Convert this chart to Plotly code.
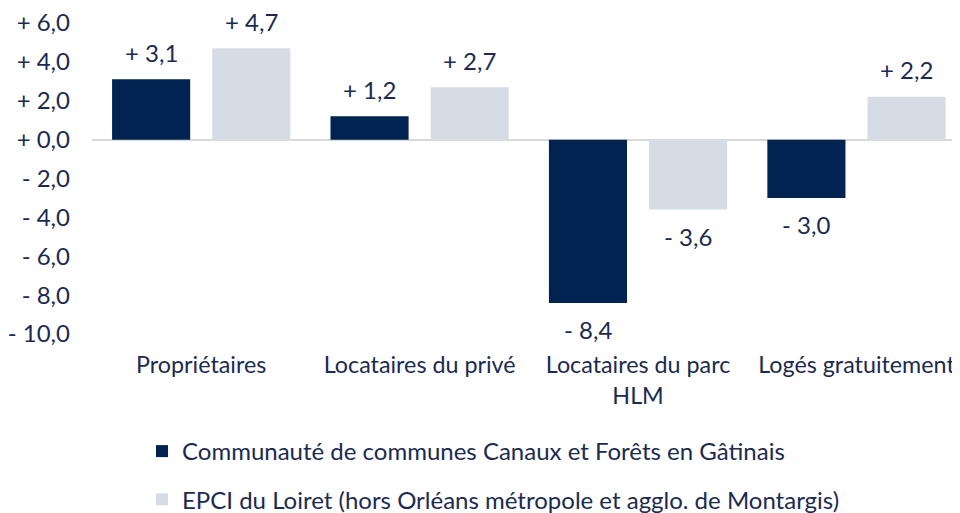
import plotly.graph_objects as go

categories = ["Propriétaires", "Locataires du privé", "Locataires du parc<br>HLM", "Logés gratuitement"]
series_names = ["Communauté de communes Canaux et Forêts en Gâtinais",
                "EPCI du Loiret (hors Orléans métropole et agglo. de Montargis)"]
cc_values = [3.1, 1.2, -8.4, -3.0]
epci_values = [4.7, 2.7, -3.6, 2.2]
tick_values = [6, 4, 2, 0, -2, -4, -6, -8, -10]
tick_labels = ["+ 6,0", "+ 4,0", "+ 2,0", "+ 0,0", "- 2,0", "- 4,0", "- 6,0", "- 8,0", "- 10,0"]

colors = ["#002352", "#D6DCE5"]
text_color = "#1B2B50"
font_family = "Lato, 'Open Sans', sans-serif"
fs = 24

W, H = 952, 505  # page body adds an 8px offset


def fmt(v):
    s = f"{abs(v):.1f}".replace(".", ",")
    return ("+ " if v >= 0 else "- ") + s


fig = go.Figure()
for i, (name, vals) in enumerate(zip(series_names, [cc_values, epci_values])):
    fig.add_trace(go.Bar(
        x=categories, y=vals, name=name,
        marker=dict(color=colors[i], line=dict(width=0)),
        legendgroup=f"g{i}",
    ))
    shift = -50 if i == 0 else 50
    for c, v in zip(categories, vals):
        fig.add_annotation(
            x=c, y=v, xref="x", yref="y", text=fmt(v), showarrow=False,
            xshift=shift, yshift=27 if v >= 0 else -27,
            font=dict(size=fs, color=text_color, family=font_family),
        )

fig.update_layout(
    width=W, height=H,
    margin=dict(l=84, r=0, t=15, b=179, autoexpand=False),
    paper_bgcolor="white", plot_bgcolor="white",
    barmode="group", bargap=0.083, bargroupgap=0.22,
    font=dict(family=font_family, size=fs, color=text_color),
    showlegend=True,
    legend=dict(
        orientation="v", xref="container", yref="container",
        x=134 / W, y=1 - 421 / H, xanchor="left", yanchor="top",
        font=dict(size=fs, color=text_color, family=font_family),
        tracegroupgap=14, itemclick=False, bgcolor="rgba(0,0,0,0)",
    ),
    xaxis=dict(
        range=[-0.5, 3.474], showgrid=False, zeroline=False, showline=False,
        ticks="", ticklabelstandoff=15, tickangle=0,
        tickfont=dict(size=23.3, color=text_color, family=font_family),
    ),
    yaxis=dict(
        range=[-10, 6], tickvals=tick_values, ticktext=tick_labels,
        showgrid=False, showline=False, ticks="",
        zeroline=True, zerolinecolor="#D9D9D9", zerolinewidth=2,
        ticklabelstandoff=21, ticklabeloverflow="allow",
        tickfont=dict(size=fs, color=text_color, family=font_family),
    ),
)

fig.write_html("out.html")
